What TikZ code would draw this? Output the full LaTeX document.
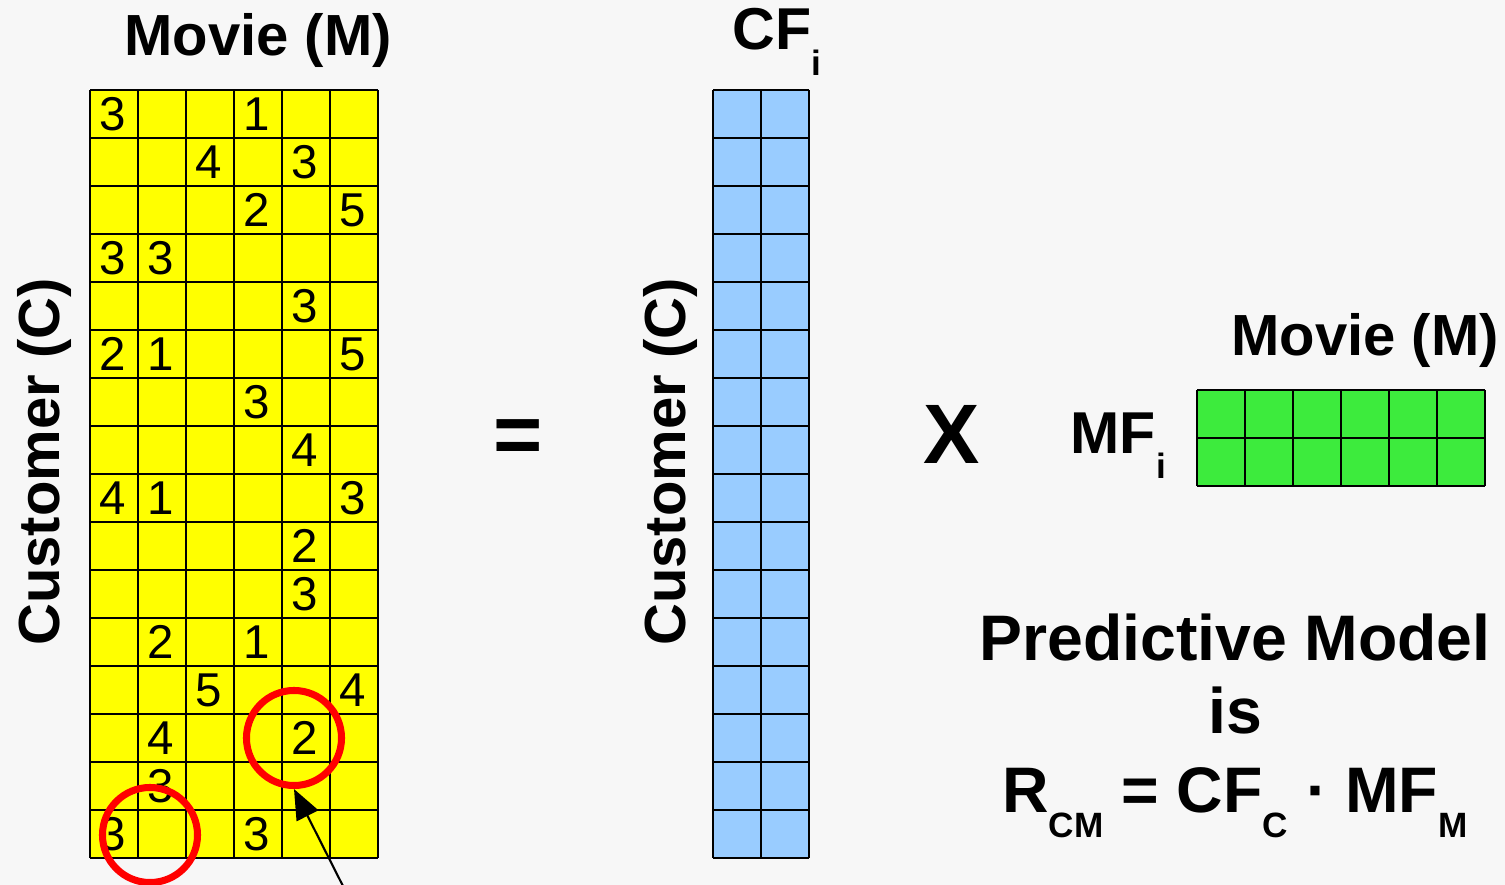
\documentclass[tikz,border=0pt]{standalone}
\usepackage{fontspec}
\setmainfont{Liberation Sans}
\usetikzlibrary{arrows.meta}

\definecolor{paper}{RGB}{247,247,247}
\definecolor{ratingfill}{RGB}{255,255,0}
\definecolor{custfill}{RGB}{153,204,255}
\definecolor{moviefill}{RGB}{61,235,61}
\definecolor{ringred}{RGB}{255,0,0}

\newcommand{\lowsub}[1]{\raisebox{-0.25cm}{\fontsize{10}{11}\selectfont #1}}

\begin{document}
\begin{tikzpicture}[
  x=0.01cm, y=-0.01cm,
  cellline/.style={line width=0.6pt},
  rating/.style={font=\fontsize{13.5}{15}\selectfont, inner sep=0pt},
  axislabel/.style={font=\bfseries\fontsize{16.5}{18}\selectfont, inner sep=0pt, anchor=base},
  factorlabel/.style={font=\bfseries\fontsize{16.8}{18}\selectfont, inner sep=0pt},
  bigsign/.style={font=\bfseries\fontsize{24}{26}\selectfont, inner sep=0pt, anchor=base},
  modeltext/.style={font=\bfseries\fontsize{18.3}{20}\selectfont, inner sep=0pt, anchor=base},
  ring/.style={circle, draw=ringred, line width=2pt, minimum size=0.95cm, inner sep=0pt},
  pointer/.style={-{Triangle[length=0.3cm, width=0.24cm]}, line width=0.6pt}
]

\fill[paper] (0,0) rectangle (1505,885);
\useasboundingbox (0,0) rectangle (1505,885);

% Ratings matrix: customers x movies
\fill[ratingfill] (90,90) rectangle (378,858);
\foreach \c in {0,...,6}
  \draw[cellline] ({90+48*\c},90) -- ({90+48*\c},858);
\foreach \r in {0,...,16}
  \draw[cellline] (90,{90+48*\r}) -- (378,{90+48*\r});

\foreach \r/\c/\v in {1/1/3, 1/4/1, 2/3/4, 2/5/3, 3/4/2, 3/6/5, 4/1/3, 4/2/3,
    5/5/3, 6/1/2, 6/2/1, 6/6/5, 7/4/3, 8/5/4, 9/1/4, 9/2/1, 9/6/3, 10/5/2,
    11/5/3, 12/2/2, 12/4/1, 13/3/5, 13/6/4, 14/2/4, 14/5/2, 15/2/3, 16/1/3, 16/4/3}
  \node[rating] (r-\r-\c) at ({65+48*\c},{66+48*\r}) {\v};

\node[axislabel] (movietop) at (258,56) {Movie (M)};
\node[axislabel, rotate=90] (custleft) at (60,462) {Customer (C)};

% Customer factors
\fill[custfill] (713,90) rectangle (809,858);
\foreach \c in {0,...,2}
  \draw[cellline] ({713+48*\c},90) -- ({713+48*\c},858);
\foreach \r in {0,...,16}
  \draw[cellline] (713,{90+48*\r}) -- (809,{90+48*\r});

\node[factorlabel, anchor=base west] (cf) at (732,50) {CF\lowsub{i}};
\node[axislabel, rotate=90] (custmid) at (685,462) {Customer (C)};

% Movie factors
\fill[moviefill] (1197,390) rectangle (1485,486);
\foreach \c in {0,...,6}
  \draw[cellline] ({1197+48*\c},390) -- ({1197+48*\c},486);
\foreach \r in {0,...,2}
  \draw[cellline] (1197,{390+48*\r}) -- (1485,{390+48*\r});

\node[factorlabel, anchor=base west] (mf) at (1070,453) {MF\lowsub{i}};
\node[axislabel] (movieright) at (1365,356) {Movie (M)};

\node[bigsign] (equals) at (518,463) {=};
\node[bigsign] (times) at (952,463) {X};

% Model
\node[modeltext] (model) at (1235,660) {Predictive Model};
\node[modeltext] (is) at (1235,733) {is};
\node[modeltext] (formula) at (1235,812) {R\lowsub{CM} = CF\lowsub{C} · MF\lowsub{M}};

% Highlighted cells
\node[ring] (hit) at (294,738) {};
\node[ring] (miss) at (150,835) {};
\coordinate (tail) at (346,892);
\draw[pointer] (tail) -- (hit.south);

\end{tikzpicture}
\end{document}
